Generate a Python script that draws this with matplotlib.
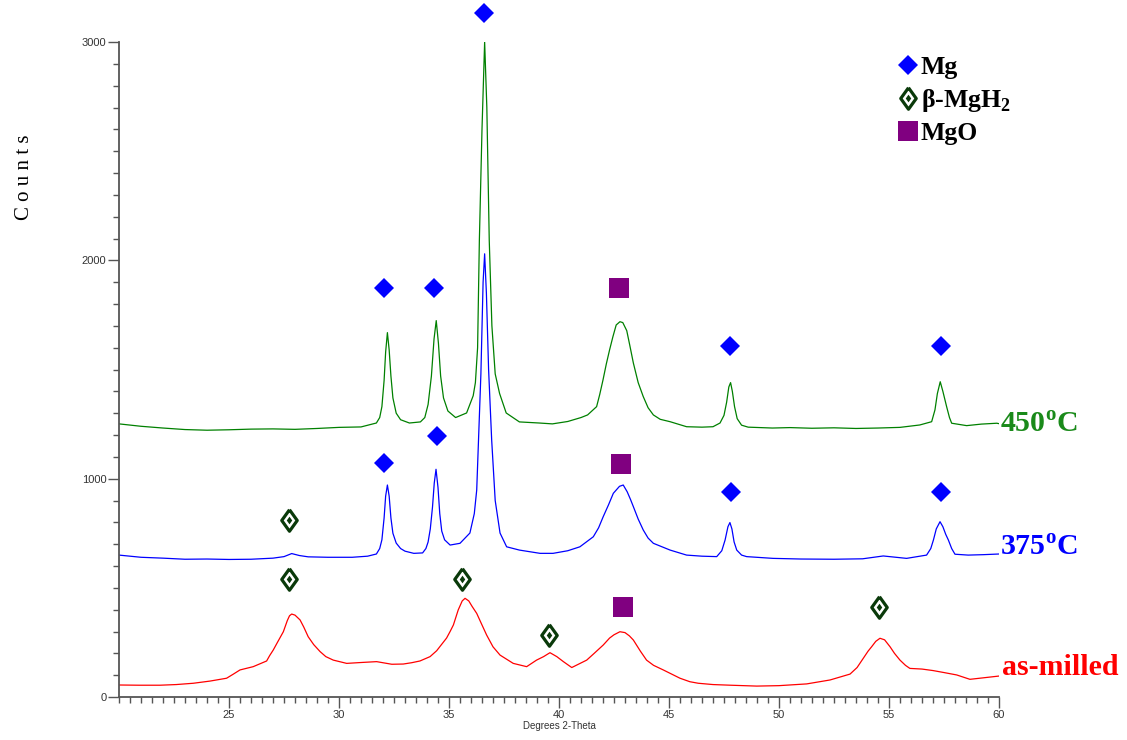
import matplotlib
matplotlib.use("Agg")
import matplotlib.pyplot as plt
from matplotlib.lines import Line2D
from matplotlib.ticker import MultipleLocator

plt.rcParams['mathtext.fontset'] = 'custom'
plt.rcParams['mathtext.rm'] = 'Liberation Serif:bold'
plt.rcParams['mathtext.bf'] = 'Liberation Serif:bold'

# 450 C
t450_x = [20.0, 21.0, 22.0, 23.0, 24.0, 25.0, 26.0, 27.0, 28.0, 29.0, 30.0, 31.0, 31.7, 31.85,
          31.95, 32.05, 32.12, 32.2, 32.28, 32.36, 32.45, 32.6, 32.8, 33.2, 33.7, 33.9, 34.05,
          34.2, 34.32, 34.42, 34.52, 34.62, 34.75, 34.95, 35.3, 35.8, 36.1, 36.2, 36.3, 36.38,
          36.5, 36.62, 36.72, 36.83, 36.95, 37.1, 37.3, 37.6, 38.2, 39.1, 39.7, 40.4, 41.0, 41.3,
          41.71, 41.85, 42.0, 42.15, 42.3, 42.45, 42.6, 42.77, 42.9, 43.08, 43.22, 43.38, 43.6,
          43.83, 44.05, 44.29, 44.6, 45.05, 45.8, 46.5, 47.0, 47.32, 47.5, 47.62, 47.72, 47.8,
          47.88, 47.98, 48.1, 48.3, 48.6, 49.7, 50.5, 51.5, 52.5, 53.5, 54.5, 55.5, 56.4, 56.94,
          57.09, 57.2, 57.33, 57.45, 57.62, 57.75, 57.85, 58.53, 59.2, 59.9, 60.0]
t450_y = [1251, 1240, 1232, 1225, 1222, 1224, 1227, 1228, 1226, 1230, 1235, 1237, 1255, 1280,
          1330, 1450, 1580, 1669, 1590, 1470, 1370, 1300, 1270, 1255, 1260, 1280, 1340,
          1470, 1640, 1724, 1620, 1470, 1370, 1310, 1280, 1301, 1380, 1440, 1600, 2090,
          2600, 3000, 2700, 2090, 1700, 1480, 1390, 1301, 1260, 1255, 1251, 1262, 1280, 1292,
          1330, 1385, 1452, 1525, 1590, 1650, 1704, 1719, 1715, 1678, 1610, 1530, 1440,
          1376, 1325, 1292, 1272, 1261, 1238, 1236, 1238, 1255, 1290, 1350, 1420, 1440,
          1400, 1330, 1275, 1245, 1236, 1232, 1234, 1231, 1233, 1230, 1232, 1235, 1246, 1261,
          1315, 1390, 1444, 1400, 1330, 1280, 1254, 1243, 1250, 1254, 1252]

# 375 C
t375_x = [20.0, 21.0, 22.0, 23.0, 24.0, 25.0, 26.0, 27.0, 27.5, 27.85, 28.2, 28.6, 29.5, 30.6,
          31.3, 31.7, 31.85, 31.95, 32.05, 32.12, 32.2, 32.28, 32.36, 32.45, 32.6, 32.8, 33.0,
          33.4, 33.8, 33.95, 34.05, 34.15, 34.25, 34.33, 34.41, 34.5, 34.58, 34.67, 34.8, 35.05,
          35.5, 35.95, 36.15, 36.26, 36.35, 36.45, 36.55, 36.62, 36.7, 36.8, 36.94, 37.1, 37.32,
          37.62, 38.2, 39.14, 39.73, 40.4, 40.95, 41.56, 41.8, 42.01, 42.25, 42.47, 42.75, 42.92,
          43.1, 43.25, 43.38, 43.6, 43.83, 44.05, 44.29, 45.05, 45.8, 46.5, 47.17, 47.4, 47.55,
          47.68, 47.77, 47.86, 47.96, 48.08, 48.3, 48.53, 49.73, 51.0, 52.5, 53.8, 54.74, 55.8,
          56.71, 56.9, 57.02, 57.15, 57.32, 57.45, 57.58, 57.7, 57.85, 58.0, 58.6, 59.3, 60.0]
t375_y = [650, 640, 636, 631, 632, 630, 631, 636, 643, 657, 648, 642, 640, 640,
          645, 655, 680, 720, 820, 920, 971, 920, 820, 750, 705, 680, 668,
          658, 660, 680, 710, 770, 870, 980, 1043, 960, 840, 760, 720, 696,
          704, 751, 840, 948, 1200, 1480, 1900, 2030, 1850, 1500, 1177, 900, 751,
          688, 673, 658, 658, 670, 688, 734, 775, 826, 880, 933, 965, 971,
          940, 905, 872, 815, 765, 728, 704, 673, 650, 645, 643, 670, 719,
          780, 799, 770, 710, 673, 650, 643, 635, 632, 631, 633, 646, 635,
          650, 680, 719, 770, 803, 780, 745, 719, 680, 654, 650, 652, 655]

# as-milled
milled_x = [20.0, 20.9, 21.86, 22.6, 23.38, 24.14, 24.89, 25.2, 25.5, 26.1, 26.71, 26.85, 27.01,
            27.2, 27.47, 27.65, 27.75, 27.85, 28.0, 28.23, 28.4, 28.6, 28.85, 29.14, 29.4, 29.74,
            30.35, 31.0, 31.71, 32.4, 32.92, 33.3, 33.68, 34.14, 34.44, 34.89, 35.05, 35.2, 35.42,
            35.6, 35.73, 35.9, 36.05, 36.26, 36.5, 36.71, 37.0, 37.32, 37.92, 38.53, 38.98, 39.3,
            39.59, 39.9, 40.2, 40.58, 41.26, 41.6, 42.01, 42.3, 42.5, 42.77, 43.0, 43.2, 43.38,
            43.7, 43.98, 44.3, 44.74, 45.5, 45.95, 46.33, 47.0, 47.8, 48.99, 50.0, 51.26, 52.32,
            53.23, 53.55, 53.83, 54.05, 54.21, 54.4, 54.59, 54.8, 55.05, 55.25, 55.5, 55.75, 55.95,
            56.5, 57.01, 57.5, 58.08, 58.68, 59.3, 60.0]
milled_y = [55, 54, 54, 57, 63, 73, 86, 105, 124, 139, 165, 190, 215,
            250, 299, 350, 372, 380, 375, 353, 320, 276, 240, 208, 185, 169,
            154, 158, 162, 150, 151, 157, 165, 185, 212, 270, 300, 330, 399,
            440, 452, 440, 415, 383, 330, 284, 230, 192, 154, 139, 169, 185,
            203, 185, 162, 135, 169, 200, 238, 270, 285, 299, 295, 280, 261,
            210, 169, 145, 124, 86, 70, 63, 57, 54, 50, 52, 60, 78,
            105, 135, 177, 210, 230, 255, 269, 262, 230, 200, 169, 145, 131,
            128, 121, 112, 101, 81, 88, 96]

# phase markers
mg_x = [32.05, 34.32, 36.59, 47.77, 57.36, 32.05, 34.45, 47.82, 57.36]
mg_y = [1874, 1874, 3133, 1608, 1608, 1072, 1196, 939, 939]
mgh2_x = [27.73, 27.73, 35.59, 39.55, 54.55]
mgh2_y = [811, 541, 541, 284, 412]
mgo_x = [42.73, 42.82, 42.91]
mgo_y = [1874, 1068, 412]

hydride_col = '#0a3a0a'
rhomb = [(0, 1), (0.72, 0), (0, -1), (-0.72, 0), (0, 1)]

fig = plt.figure(figsize=(11.27, 7.40), dpi=100)
ax = fig.add_axes([0.1056, 0.0581, 0.7808, 0.8851])

ax.plot(t450_x, t450_y, color='#008000', lw=0.9)
ax.plot(t375_x, t375_y, color='#0000ff', lw=0.9)
ax.plot(milled_x, milled_y, color='#ff0000', lw=0.9)

ax.plot(mg_x, mg_y, 'D', color='#0000ff', ms=10, mew=0, ls='none', clip_on=False, zorder=4)
ax.plot(mgh2_x, mgh2_y, marker=rhomb, mfc='white', mec=hydride_col, mew=2.3, ms=15.5, ls='none',
        clip_on=False, zorder=4)
ax.plot(mgh2_x, mgh2_y, marker=rhomb, color=hydride_col, ms=5.5, mew=0, ls='none',
        clip_on=False, zorder=5)
ax.plot(mgo_x, mgo_y, 's', color='#800080', ms=14, mew=0, ls='none', clip_on=False, zorder=4)

# sample labels on the right
ax.text(60.05, 1246, r'450$^{\mathbf{o}}$C', color='#1a8a1a', fontsize=21.5,
        family='Liberation Serif', weight='bold', va='center', ha='left')
ax.text(60.05, 683, r'375$^{\mathbf{o}}$C', color='#0000ff', fontsize=21.5,
        family='Liberation Serif', weight='bold', va='center', ha='left')
ax.text(60.15, 133, 'as-milled', color='#ff0000', fontsize=21.5,
        family='Liberation Serif', weight='bold', va='center', ha='left')

# legend
h_mg = Line2D([], [], marker='D', color='#0000ff', ms=10, mew=0, ls='none')
h_h_out = Line2D([], [], marker=rhomb, mfc='white', mec=hydride_col, mew=2.3, ms=15.5, ls='none')
h_h_in = Line2D([], [], marker=rhomb, color=hydride_col, ms=5.5, mew=0, ls='none')
h_mgo = Line2D([], [], marker='s', color='#800080', ms=14, mew=0, ls='none')
ax.legend([h_mg, (h_h_out, h_h_in), h_mgo], ['Mg', r'β-MgH$_{\mathbf{2}}$', 'MgO'],
          loc='upper left', bbox_to_anchor=(0.775, 0.955), bbox_transform=fig.transFigure,
          frameon=False, handlelength=0.9, handletextpad=0.05, labelspacing=0.3,
          prop={'family': 'Liberation Serif', 'weight': 'bold', 'size': 18.5})

ax.set_xlim(20, 60)
ax.set_ylim(0, 3000)
ax.set_xticks([25, 30, 35, 40, 45, 50, 55, 60])
ax.xaxis.set_minor_locator(MultipleLocator(0.5))
ax.yaxis.set_major_locator(MultipleLocator(1000))
ax.yaxis.set_minor_locator(MultipleLocator(100))

for s in ['top', 'right']:
    ax.spines[s].set_visible(False)
for s in ['left', 'bottom']:
    ax.spines[s].set_color('#555555')
    ax.spines[s].set_linewidth(1.3)

ax.tick_params(which='major', length=8, width=1, color='#555555', labelsize=8,
               labelcolor='#333333', pad=1)
ax.tick_params(which='minor', length=4, width=1, color='#555555')
for lab in ax.get_xticklabels() + ax.get_yticklabels():
    lab.set_family('Liberation Sans')

ax.set_xlabel('Degrees 2-Theta', fontsize=7, family='Liberation Sans', color='#333333', labelpad=1)
fig.text(0.022, 1 - 177 / 740, 'C o u n t s', rotation=90, fontsize=15,
         family='Liberation Serif', va='center', ha='center')

fig.savefig('out.png', dpi=100)
